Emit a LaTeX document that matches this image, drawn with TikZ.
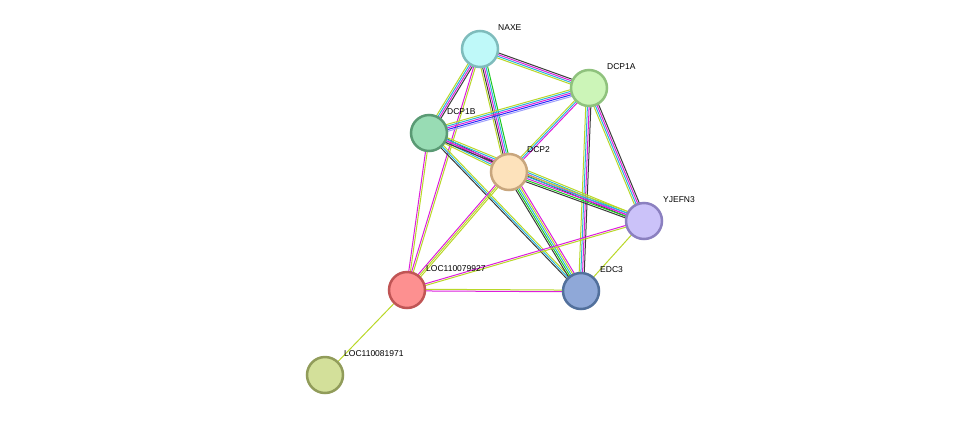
\documentclass[tikz,border=0pt]{standalone}
\usepackage{fontspec}
\setmainfont{Liberation Sans}
\usetikzlibrary{calc,backgrounds}

\definecolor{eg}{RGB}{30,200,30}
\definecolor{eb}{RGB}{40,40,250}
\definecolor{ek}{RGB}{60,60,60}
\definecolor{em}{RGB}{220,30,220}
\definecolor{ec}{RGB}{40,180,220}
\definecolor{ey}{RGB}{185,215,40}
\definecolor{eh}{RGB}{160,160,250}

\definecolor{fnaxe}{RGB}{191,249,249}\definecolor{dnaxe}{RGB}{127,188,188}
\definecolor{fdcpia}{RGB}{204,245,184}\definecolor{ddcpia}{RGB}{143,194,125}
\definecolor{fdcpib}{RGB}{152,220,180}\definecolor{ddcpib}{RGB}{90,154,116}
\definecolor{fdcpii}{RGB}{253,226,187}\definecolor{ddcpii}{RGB}{200,166,125}
\definecolor{fyjefn}{RGB}{203,194,249}\definecolor{dyjefn}{RGB}{139,128,192}
\definecolor{fedc}{RGB}{143,168,216}\definecolor{dedc}{RGB}{82,112,156}
\definecolor{floca}{RGB}{253,144,144}\definecolor{dloca}{RGB}{192,85,85}
\definecolor{flocb}{RGB}{211,224,154}\definecolor{dlocb}{RGB}{145,156,90}

\newcommand\edge[3]{%
  \foreach \c [count=\n] in {#3} {\xdef\ncol{\n}}
  \foreach \c [count=\i] in {#3} {
    \pgfmathsetmacro\o{(\i-(\ncol+1)/2)*1.7}
    \draw[line width=1pt, color=e\c] ($(#1)!\o pt!90:(#2)$) -- ($(#2)!\o pt!-90:(#1)$);
  }}

\tikzset{
  prot/.style={circle, minimum size=36pt, inner sep=0pt, line width=2.5pt, fill=f#1, draw=d#1},
  lbl/.style={anchor=west, font=\fontsize{8.5}{10}\selectfont, inner sep=0pt}
}

\begin{document}
\begin{tikzpicture}[x=1pt,y=-1pt]
\useasboundingbox (0,0) rectangle (975,421);

% proteins
\node[prot=naxe] (naxe) at (480,49) {};
\node[prot=dcpia] (dcpia) at (589,88) {};
\node[prot=dcpib] (dcpib) at (429,133) {};
\node[prot=dcpii] (dcpii) at (509,172) {};
\node[prot=yjefn] (yjefn) at (644,221) {};
\node[prot=edc] (edc) at (581,291) {};
\node[prot=loca] (loca) at (407,290) {};
\node[prot=locb] (locb) at (325,375) {};

% labels
\node[lbl] (tnaxe) at (498,28) {NAXE};
\node[lbl] (tdcpia) at (607,67) {DCP1A};
\node[lbl] (tdcpib) at (447,112) {DCP1B};
\node[lbl] (tdcpii) at (527,150) {DCP2};
\node[lbl] (tyjefn) at (663,200) {YJEFN3};
\node[lbl] (tedc) at (600,270) {EDC3};
\node[lbl] (tloca) at (426,269) {LOC110079927};
\node[lbl] (tlocb) at (344,354) {LOC110081971};

% interactions
\begin{scope}[on background layer]
\edge{naxe}{dcpia}{y,c,m,k}
\edge{naxe}{dcpib}{y,c,m,k}
\edge{naxe}{dcpii}{y,k,m,c,g}
\edge{naxe}{loca}{m,y}
\edge{dcpia}{dcpib}{y,c,m,b,h}
\edge{dcpia}{dcpii}{y,c,m}
\edge{dcpia}{edc}{y,c,m,k}
\edge{dcpia}{yjefn}{y,c,m,k}
\edge{dcpib}{dcpii}{y,c,m,k}
\edge{dcpib}{yjefn}{k,m,c,y}
\edge{dcpib}{edc}{k,c,y}
\edge{dcpib}{loca}{m,y}
\edge{dcpii}{yjefn}{k,g,m,c,y}
\edge{dcpii}{edc}{k,g,c,y,m}
\edge{dcpii}{loca}{m,y,y}
\edge{yjefn}{loca}{m,y}
\edge{yjefn}{edc}{y}
\edge{loca}{edc}{m,y}
\edge{loca}{locb}{y}
\end{scope}
\end{tikzpicture}
\end{document}
